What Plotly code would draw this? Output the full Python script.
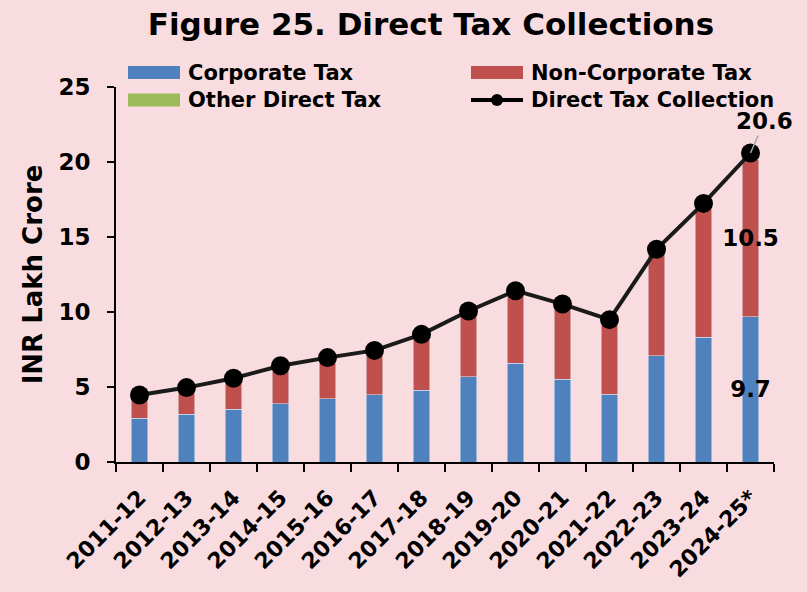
import plotly.graph_objects as go

years = ["2011-12", "2012-13", "2013-14", "2014-15", "2015-16", "2016-17", "2017-18",
         "2018-19", "2019-20", "2020-21", "2021-22", "2022-23", "2023-24", "2024-25*"]
corporate = [2.93, 3.18, 3.51, 3.89, 4.22, 4.47, 4.80, 5.67, 6.58, 5.51, 4.53, 7.07, 8.31, 9.7]
non_corporate = [1.52, 1.76, 2.05, 2.50, 2.71, 2.94, 3.67, 4.35, 4.79, 4.97, 4.86, 6.91, 8.63, 10.5]
other_direct = [0.02, 0.02, 0.02, 0.03, 0.03, 0.03, 0.04, 0.05, 0.05, 0.05, 0.10, 0.20, 0.30, 0.4]
total = [4.47, 4.96, 5.58, 6.42, 6.96, 7.44, 8.51, 10.07, 11.42, 10.53, 9.49, 14.18, 17.24, 20.6]

corp_labels = [""] * 13 + ["9.7"]
noncorp_labels = [""] * 13 + ["10.5"]
total_label = "20.6"

legend_names = ["Corporate Tax", "Non-Corporate Tax", "Other Direct Tax", "Direct Tax Collection"]

BLUE = "#4F81BD"
RED = "#C0504D"
GREEN = "#9BBB59"
BG = "#F9DCDF"
FONT = "DejaVu Sans"

fig = go.Figure()
lab_font = dict(family=FONT, size=23, color="black", weight="bold")
fig.add_trace(go.Bar(x=years, y=corporate, marker_color=BLUE, name=legend_names[0], showlegend=False,
                     text=corp_labels, textposition="inside", insidetextanchor="middle",
                     textangle=0, constraintext="none", textfont=lab_font, cliponaxis=False))
fig.add_trace(go.Bar(x=years, y=non_corporate, marker_color=RED, name=legend_names[1], showlegend=False,
                     text=noncorp_labels, textposition="inside", insidetextanchor="middle",
                     textangle=0, constraintext="none", textfont=lab_font, cliponaxis=False))
fig.add_trace(go.Bar(x=years, y=other_direct, marker_color=GREEN, name=legend_names[2], showlegend=False))
fig.add_trace(go.Scatter(x=years, y=total, mode="lines+markers", name=legend_names[3], showlegend=False,
                         line=dict(color="#1a1a1a", width=4),
                         marker=dict(color="black", size=19)))

fig.add_annotation(x=years[-1], y=total[-1], text=total_label, showarrow=True, arrowhead=0,
                   arrowcolor="#A6A6A6", arrowwidth=1.5, ax=14, ay=-32,
                   font=dict(family=FONT, size=23, color="black", weight="bold"))

# manual legend (swatches are wide rectangles in the reference)
L, W, T, H = 116, 658, 87, 375
def px(x):
    return (x - L) / W
def py(y):
    return (T + H - y) / H

leg_font = dict(family=FONT, size=21, color="black", weight="bold")
slots = [(128, 72.5), (471, 72.5), (128, 100), (471, 100)]
colors = [BLUE, RED, GREEN, None]
for name, (sx, sy), col in zip(legend_names, slots, colors):
    if col is not None:
        fig.add_shape(type="rect", xref="paper", yref="paper",
                      x0=px(sx), x1=px(sx + 52), y0=py(sy + 6.5), y1=py(sy - 6.5),
                      fillcolor=col, line=dict(width=0))
    else:
        fig.add_shape(type="line", xref="paper", yref="paper",
                      x0=px(sx), x1=px(sx + 52), y0=py(sy), y1=py(sy),
                      line=dict(color="black", width=4))
        fig.add_shape(type="circle", xref="paper", yref="paper",
                      x0=px(sx + 20), x1=px(sx + 32), y0=py(sy + 6), y1=py(sy - 6),
                      fillcolor="black", line=dict(width=0))
    fig.add_annotation(xref="paper", yref="paper", x=px(sx + 58), y=py(sy), text=name,
                       showarrow=False, xanchor="left", yanchor="middle", font=leg_font)

fig.update_layout(
    width=807, height=592,
    paper_bgcolor=BG, plot_bgcolor=BG,
    barmode="stack", bargap=0.645,
    showlegend=False,
    margin=dict(l=116, r=33, t=87, b=130),
    title=dict(text="Figure 25. Direct Tax Collections", x=0.534, xanchor="center",
               y=0.96, yanchor="middle",
               font=dict(family=FONT, size=31, color="black", weight="bold")),
    xaxis=dict(type="category", showline=True, linecolor="black", linewidth=2, ticks="outside",
               tickson="boundaries", ticklen=8, tickwidth=1.5, tickcolor="black",
               tickangle=-45, ticklabelstandoff=12, automargin=False,
               tickfont=dict(family=FONT, size=22, color="black", weight="bold"),
               showgrid=False, range=[-0.5, 13.5]),
    yaxis=dict(range=[0, 25], dtick=5, showline=True, linecolor="black", linewidth=2,
               ticks="outside", ticklen=7, tickwidth=1.5, tickcolor="black", showgrid=False,
               zeroline=False, ticklabelstandoff=12, automargin=False,
               tickfont=dict(family=FONT, size=23, color="black", weight="bold"),
               title=dict(text="INR Lakh Crore", standoff=8,
                          font=dict(family=FONT, size=26, color="black", weight="bold"))),
)

fig.write_html("out.html", config={"displayModeBar": False},
               post_script="document.body.style.margin='0px';")
